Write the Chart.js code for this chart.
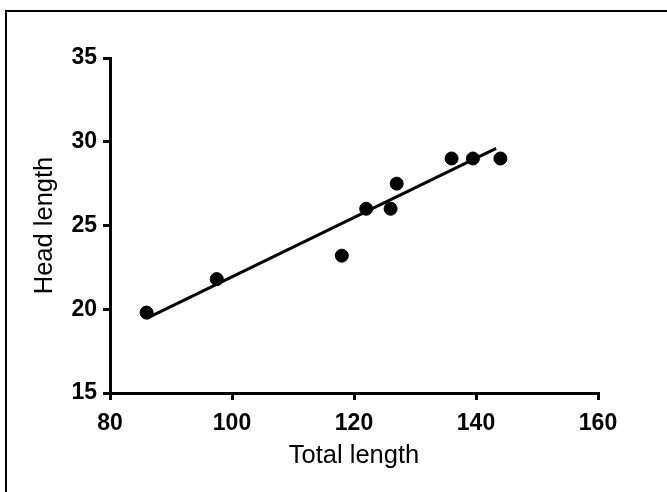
<!DOCTYPE html>
<html>
<head>
<meta charset="utf-8">
<script src="https://cdn.jsdelivr.net/npm/chart.js@4.4.1/dist/chart.umd.min.js"></script>
<style>
  body { margin: 0; background: #fff; }
  canvas { display: block; }
</style>
</head>
<body>
<canvas id="myChart" width="667" height="492"></canvas>
<script>
// points
const totalLength = [86, 97.5, 118, 122, 126, 127, 136, 139.5, 144];
const headLength = [19.8, 21.8, 23.2, 26, 26, 27.5, 29, 29, 29];
// fitted line ends, as drawn
const lineX = [86, 143.3];
const lineY = [19.45, 29.6];

const xTicks = [80, 100, 120, 140, 160];
const yTicks = [15, 20, 25, 30, 35];

const points = totalLength.map((x, i) => ({x: x, y: headLength[i]}));
const fit = lineX.map((x, i) => ({x: x, y: lineY[i]}));

// white page + the frame on the left and top
const framePlugin = {
    id: 'frame',
    beforeDraw(chart){
        const ctx = chart.ctx;
        ctx.save();
        ctx.fillStyle = '#ffffff';
        ctx.fillRect(0, 0, chart.width, chart.height);
        ctx.fillStyle = '#000000';
        ctx.fillRect(5, 10, 2, chart.height - 10);
        ctx.fillRect(5, 10, chart.width - 5, 2);
        ctx.restore();
    }
};

const tickFont = { family: '"Liberation Sans", Arial, sans-serif', size: 23, weight: 'bold' };
const titleFont = { family: '"Liberation Sans", Arial, sans-serif', size: 25.5 };

const ctx = document.querySelector('#myChart').getContext('2d');
const myChart = new Chart(ctx, {
    type: 'scatter',
    data: {
        datasets: [
            {
                type: 'line',
                data: fit,
                borderColor: '#000000',
                borderWidth: 3,
                pointRadius: 0,
                fill: false
            },
            {
                data: points,
                backgroundColor: '#000000',
                borderColor: '#000000',
                pointRadius: 6.5,
                pointHoverRadius: 6.5
            }
        ]
    },
    options: {
        responsive: false,
        animation: false,
        layout: {
            padding: { left: 0, top: 58, right: 69, bottom: 0 }
        },
        plugins: {
            legend: { display: false },
            tooltip: { enabled: false }
        },
        scales: {
            x: {
                type: 'linear',
                min: 80,
                max: 160,
                afterBuildTicks: scale => { scale.ticks = xTicks.map(v => ({value: v})); },
                afterFit: scale => { scale.height = 99; },
                border: { display: true, color: '#000000', width: 3 },
                grid: { drawOnChartArea: false, color: '#000000', lineWidth: 3, tickLength: 7 },
                ticks: { color: '#000000', font: tickFont, padding: 10, maxRotation: 0 },
                title: {
                    display: true,
                    text: 'Total length',
                    color: '#000000',
                    font: titleFont,
                    padding: { top: 0, bottom: 21 }
                }
            },
            y: {
                type: 'linear',
                min: 15,
                max: 35,
                afterBuildTicks: scale => { scale.ticks = yTicks.map(v => ({value: v})); },
                afterFit: scale => { scale.width = 110; },
                border: { display: true, color: '#000000', width: 3 },
                grid: { drawOnChartArea: false, color: '#000000', lineWidth: 3, tickLength: 7 },
                ticks: { color: '#000000', font: tickFont, padding: 6 },
                title: {
                    display: true,
                    text: 'Head length',
                    color: '#000000',
                    font: titleFont,
                    padding: { top: 30, bottom: 0 }
                }
            }
        }
    },
    plugins: [framePlugin]
});
</script>
</body>
</html>
